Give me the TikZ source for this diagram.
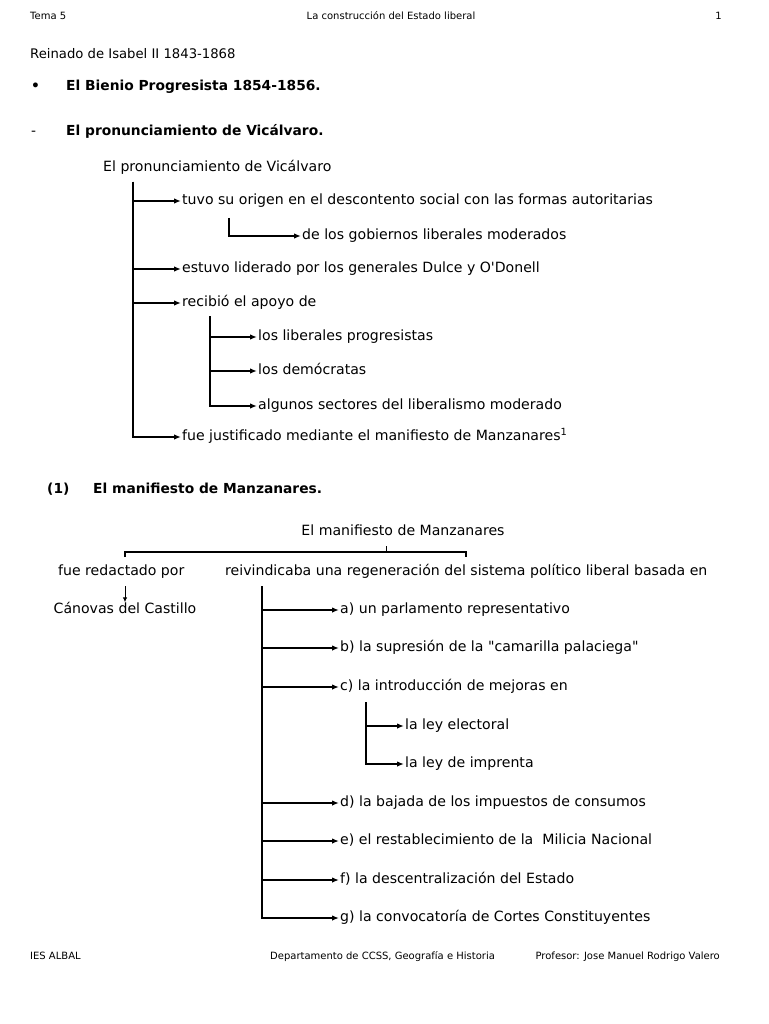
\documentclass[tikz,border=0pt]{standalone}
\usepackage{fontspec}
\setmainfont{DejaVu Sans}
\usetikzlibrary{arrows.meta}
\begin{document}
\begin{tikzpicture}[x=1pt,y=-1pt,
  txt/.style={anchor=west,inner sep=1pt,text height=10pt,text depth=3pt,font=\fontsize{14.1}{16}\selectfont},
  ctxt/.style={inner sep=1pt,text height=10pt,text depth=3pt,font=\fontsize{14.1}{16}\selectfont},
  hdr/.style={inner sep=0pt,text height=7.5pt,text depth=2.5pt,font=\fontsize{10}{12}\selectfont},
  bold/.style={anchor=west,inner sep=0pt,text height=10pt,text depth=3pt,font=\fontsize{13.8}{16}\selectfont\bfseries},
  ln/.style={line width=1.4pt},
  arr/.style={line width=1.4pt,-{Latex[length=7pt,width=5.5pt]}},
  sarr/.style={line width=0.9pt,-{Latex[length=5pt,width=4.5pt]}}]
\useasboundingbox (0,0) rectangle (768,1024);
% header
\node[hdr,anchor=west] (h1) at (30,17) {Tema 5};
\node[hdr] (h2) at (391,17) {La construcción del Estado liberal};
\node[hdr,anchor=east] (h3) at (722,17) {1};
\node[anchor=west,inner sep=0pt,text height=10pt,text depth=3pt,font=\fontsize{13.2}{15}\selectfont] (rei) at (30,55) {Reinado de Isabel II 1843-1868};
\node[bold] (bul) at (31,87) {•};
\node[bold] (bienio) at (66,87) {El Bienio Progresista 1854-1856.};
\node[bold] (dash) at (31,132) {\mdseries -};
\node[bold] (pron) at (66,132) {El pronunciamiento de Vicálvaro.};
% first tree
\node[txt] (t0) at (102,168) {El pronunciamiento de Vicálvaro};
\coordinate (v1) at (133,182);
\node[txt] (a1) at (181,201) {tuvo su origen en el descontento social con las formas autoritarias};
\coordinate (v2) at (229,218);
\node[txt] (a1b) at (301,236) {de los gobiernos liberales moderados};
\node[txt] (a2) at (181,269) {estuvo liderado por los generales Dulce y O\textquotesingle Donell};
\node[txt] (a3) at (181,303) {recibió el apoyo de};
\coordinate (v3) at (210,316);
\node[txt] (b1) at (257,337) {los liberales progresistas};
\node[txt] (b2) at (257,371) {los demócratas};
\node[txt] (b3) at (257,406) {algunos sectores del liberalismo moderado};
\node[txt] (a4) at (181,437) {fue justificado mediante el manifiesto de Manzanares\textsuperscript{1}};
\draw[arr] (v1) |- (a1.west);
\draw[arr] (v1) |- (a2.west);
\draw[arr] (v1) |- (a3.west);
\draw[arr] (v1) |- (a4.west);
\draw[arr] (v2) |- (a1b.west);
\draw[arr] (v3) |- (b1.west);
\draw[arr] (v3) |- (b2.west);
\draw[arr] (v3) |- (b3.west);
% section (1)
\node[bold] (n1) at (47,490) {(1)};
\node[bold] (man) at (93,490) {El manifiesto de Manzanares.};
\node[ctxt] (m0) at (403,532) {El manifiesto de Manzanares};
\coordinate (l1) at (125,557);
\coordinate (l2) at (466,557);
\coordinate (lt) at (386,546);
\draw[ln] (l1) -- ++(0,-5) -| (l2);
\draw[line width=0.8pt] (lt) -- (386,552);
\node[txt] (fr) at (57,572) {fue redactado por};
\node[txt] (rv) at (224,572) {reivindicaba una regeneración del sistema político liberal basada en};
\coordinate (s1) at (125,586);
\node[ctxt] (can) at (125,610) {Cánovas del Castillo};
\draw[sarr] (s1) -- (can.north);
\coordinate (v4) at (262,586);
\node[txt] (c1) at (339,610) {a) un parlamento representativo};
\node[txt] (c2) at (339,648) {b) la supresión de la \textquotedbl camarilla palaciega\textquotedbl};
\node[txt] (c3) at (339,687) {c) la introducción de mejoras en};
\coordinate (v5) at (366,702);
\node[txt] (d1) at (404,726) {la ley electoral};
\node[txt] (d2) at (404,764) {la ley de imprenta};
\node[txt] (c4) at (339,803) {d) la bajada de los impuestos de consumos};
\node[txt] (c5) at (339,841) {e) el restablecimiento de la \ Milicia Nacional};
\node[txt] (c6) at (339,880) {f) la descentralización del Estado};
\node[txt] (c7) at (339,918) {g) la convocatoría de Cortes Constituyentes};
\foreach \n in {c1,c2,c3,c4,c5,c6,c7} \draw[arr] (v4) |- (\n.west);
\draw[arr] (v5) |- (d1.west);
\draw[arr] (v5) |- (d2.west);
% footer
\node[hdr,anchor=west] (f1) at (30,957) {IES ALBAL};
\node[hdr,anchor=west] (f2) at (270,957) {Departamento de CCSS, Geografía e Historia};
\node[hdr,anchor=east] (f3) at (720,957) {Profesor: Jose Manuel Rodrigo Valero};
\end{tikzpicture}
\end{document}
